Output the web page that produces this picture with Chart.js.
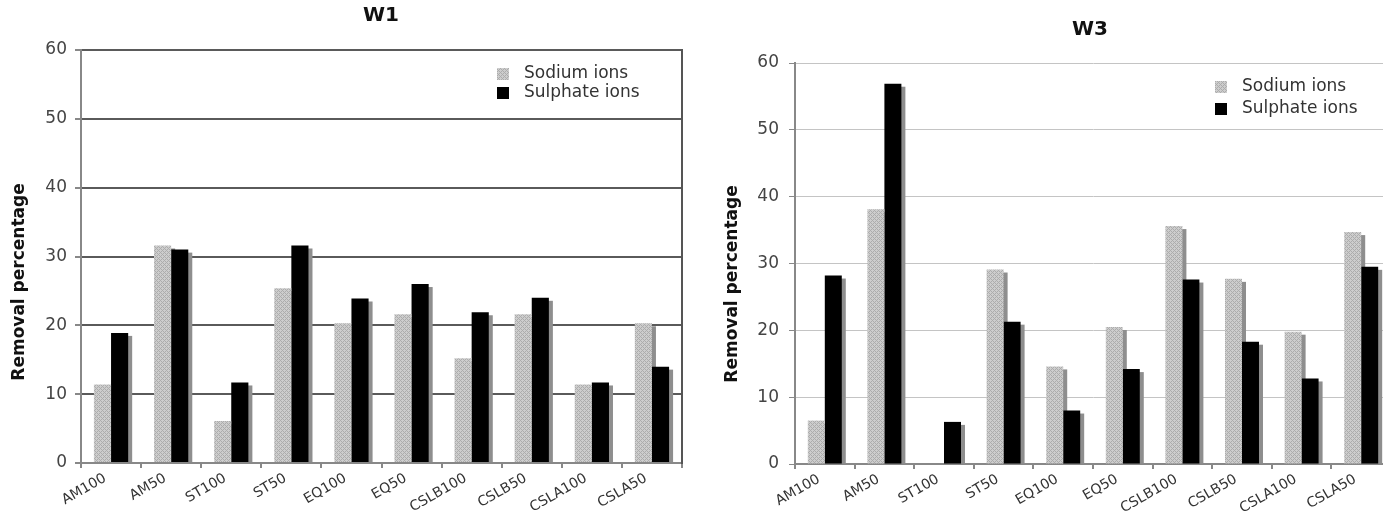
<!DOCTYPE html>
<html lang="en">
<head>
<meta charset="UTF-8">
<title>Removal percentage - W1 / W3</title>
<script src="https://cdn.jsdelivr.net/npm/chart.js"></script>
<style>
  html, body { margin: 0; padding: 0; background: #fff; }
  body { width: 1383px; height: 513px; overflow: hidden; position: relative; }
  .box { position: absolute; top: 0; height: 513px; }
  #boxW1 { left: 0; width: 762px; }
  #boxW3 { left: 700px; width: 780px; }
</style>
</head>
<body>
<div class="box" id="boxW1"><canvas id="chartW1"></canvas></div>
<div class="box" id="boxW3"><canvas id="chartW3"></canvas></div>
<script>
const categorias = ['AM100', 'AM50', 'ST100', 'ST50', 'EQ100', 'EQ50', 'CSLB100', 'CSLB50', 'CSLA100', 'CSLA50'];
const w1Sodium   = [11.4, 31.6, 6.1, 25.4, 20.3, 21.6, 15.2, 21.6, 11.4, 20.3];
const w1Sulphate = [18.9, 31.0, 11.7, 31.6, 23.9, 26.0, 21.9, 24.0, 11.7, 14.0];
const w3Sodium   = [6.5, 38.1, 0, 29.1, 14.6, 20.5, 35.6, 27.7, 19.8, 34.7];
const w3Sulphate = [28.2, 56.9, 6.3, 21.3, 8.0, 14.2, 27.6, 18.3, 12.8, 29.5];
const nomesSeries = ['Sodium ions', 'Sulphate ions'];
const tituloEixoY = 'Removal percentage';
const yMin = 0, yMax = 60, yPasso = 10;

Chart.defaults.font.family = '"DejaVu Sans", Verdana, sans-serif';

// textura cinza tracejada das barras de sodio
function texturaSodio() {
    const c = document.createElement('canvas');
    c.width = 4; c.height = 4;
    const g = c.getContext('2d');
    g.fillStyle = '#cdcdcd';
    g.fillRect(0, 0, 4, 4);
    g.fillStyle = '#acacac';
    for (let x = 0; x < 4; x++) {
        for (let y = 0; y < 4; y++) {
            if ((x + y) % 4 === 0 || (x - y + 4) % 4 === 0) g.fillRect(x, y, 1, 1);
        }
    }
    return g.createPattern(c, 'repeat');
}

// sombra 3D atras de todas as barras
const sombra = {
    id: 'sombra',
    beforeDatasetsDraw(chart) {
        const ctx = chart.ctx;
        ctx.save();
        ctx.fillStyle = '#8e8e8e';
        chart.data.datasets.forEach((ds, i) => {
            chart.getDatasetMeta(i).data.forEach(bar => {
                const h = bar.base - bar.y - 3;
                if (h <= 0) return;
                ctx.fillRect(bar.x - bar.width / 2 + 4, bar.y + 3, bar.width, h);
            });
        });
        ctx.restore();
    }
};

// legenda dentro da area do grafico, canto superior direito
const legenda = {
    id: 'legenda',
    afterDraw(chart, args, opts) {
        const { ctx, chartArea } = chart;
        ctx.save();
        ctx.font = '17px "DejaVu Sans"';
        ctx.textBaseline = 'middle';
        ctx.textAlign = 'left';
        chart.data.datasets.forEach((ds, i) => {
            const x = chartArea.right - opts.right;
            const y = chartArea.top + opts.top + i * opts.gap;
            ctx.fillStyle = ds.backgroundColor;
            ctx.fillRect(x, y - 6, 12, 12);
            ctx.fillStyle = '#333';
            ctx.fillText(ds.label, x + 27, y);
        });
        ctx.restore();
    }
};

// titulo vertical do eixo y
const tituloY = {
    id: 'tituloY',
    afterDraw(chart, args, opts) {
        const ctx = chart.ctx;
        ctx.save();
        ctx.translate(opts.x, opts.y);
        ctx.rotate(-Math.PI / 2);
        ctx.font = 'bold 17px "DejaVu Sans"';
        ctx.fillStyle = '#111';
        ctx.textAlign = 'center';
        ctx.textBaseline = 'middle';
        ctx.fillText(opts.text, 0, 0);
        ctx.restore();
    }
};

function criarGrafico(id, titulo, sodio, sulfato, cfg) {
    const ctx = document.getElementById(id).getContext('2d');
    return new Chart(ctx, {
        type: 'bar',
        data: {
            labels: categorias,
            datasets: [
                { label: nomesSeries[0], data: sodio, backgroundColor: texturaSodio() },
                { label: nomesSeries[1], data: sulfato, backgroundColor: '#000' }
            ]
        },
        plugins: [sombra, legenda, tituloY],
        options: {
            responsive: true,
            maintainAspectRatio: false,
            animation: false,
            categoryPercentage: 0.57,
            barPercentage: 1.0,
            layout: { padding: 0 },
            plugins: {
                legend: { display: false },
                tooltip: { enabled: false },
                title: {
                    display: true,
                    text: titulo,
                    color: '#111',
                    font: { size: 20, weight: 'bold' },
                    padding: cfg.tituloPad
                },
                legenda: cfg.legenda,
                tituloY: { text: tituloEixoY, x: cfg.tituloY.x, y: cfg.tituloY.y }
            },
            scales: {
                x: {
                    grid: { offset: true, drawOnChartArea: false, tickLength: 5, color: '#888', lineWidth: 2 },
                    border: { color: '#888', width: 2 },
                    ticks: { autoSkip: false, minRotation: 30, maxRotation: 30, labelOffset: -6, color: '#333', font: { size: 14 }, padding: 2 },
                    afterFit: s => { s.height = cfg.alturaX; }
                },
                y: {
                    min: yMin,
                    max: yMax,
                    ticks: { stepSize: yPasso, color: '#444', font: { size: 17 }, padding: cfg.padTick },
                    grid: { color: cfg.corGrade, lineWidth: cfg.larguraGrade, tickColor: '#888', tickLength: 6 },
                    border: { color: '#888', width: 2 },
                    afterFit: s => { s.width = cfg.larguraY; }
                },
                yDir: {
                    position: 'right',
                    display: true,
                    grid: { display: false },
                    ticks: { display: false },
                    border: { display: cfg.moldura, color: '#555', width: 2 },
                    afterFit: s => { s.width = cfg.larguraDir; }
                }
            }
        }
    });
}

criarGrafico('chartW1', 'W1', w1Sodium, w1Sulphate, {
    tituloPad: { top: 4, bottom: 22 },
    alturaX: 50,
    larguraY: 81,
    larguraDir: 80,
    padTick: 8,
    corGrade: '#5a5a5a',
    larguraGrade: 2,
    moldura: true,
    legenda: { right: 185, top: 24, gap: 19 },
    tituloY: { x: 20, y: 282 }
});

criarGrafico('chartW3', 'W3', w3Sodium, w3Sulphate, {
    tituloPad: { top: 18, bottom: 21 },
    alturaX: 49,
    larguraY: 95,
    larguraDir: 89,
    padTick: 10,
    corGrade: '#c4c4c4',
    larguraGrade: 1,
    moldura: false,
    legenda: { right: 176, top: 24, gap: 22 },
    tituloY: { x: 33, y: 284 }
});
</script>
</body>
</html>
